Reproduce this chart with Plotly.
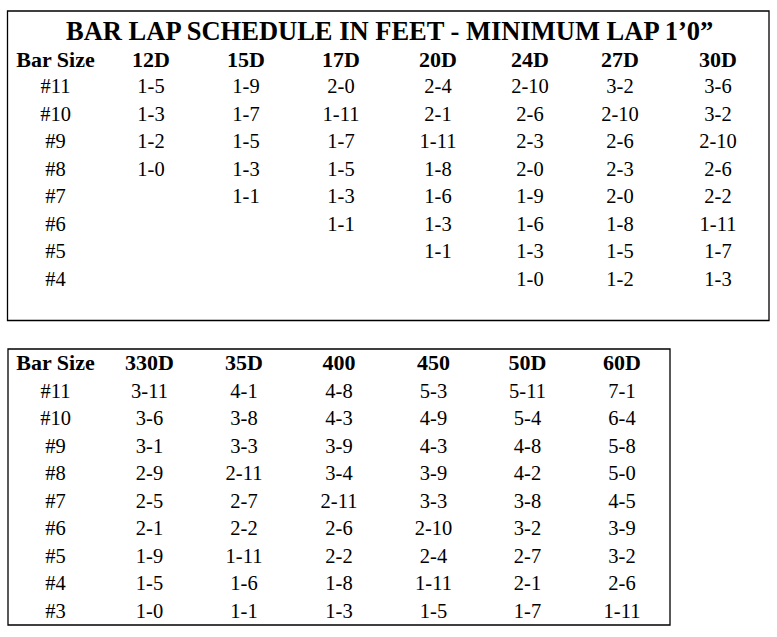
import plotly.graph_objects as go

# ---------------- data ----------------
title_text = "BAR LAP SCHEDULE IN FEET - MINIMUM LAP 1\u20190\u201d"
row_header = "Bar Size"

# upper table
sizes_top = ["#11", "#10", "#9", "#8", "#7", "#6", "#5", "#4"]
cols_top = ["12D", "15D", "17D", "20D", "24D", "27D", "30D"]
lap_12D = ["1-5", "1-3", "1-2", "1-0", "", "", "", ""]
lap_15D = ["1-9", "1-7", "1-5", "1-3", "1-1", "", "", ""]
lap_17D = ["2-0", "1-11", "1-7", "1-5", "1-3", "1-1", "", ""]
lap_20D = ["2-4", "2-1", "1-11", "1-8", "1-6", "1-3", "1-1", ""]
lap_24D = ["2-10", "2-6", "2-3", "2-0", "1-9", "1-6", "1-3", "1-0"]
lap_27D = ["3-2", "2-10", "2-6", "2-3", "2-0", "1-8", "1-5", "1-2"]
lap_30D = ["3-6", "3-2", "2-10", "2-6", "2-2", "1-11", "1-7", "1-3"]

# lower table
sizes_bot = ["#11", "#10", "#9", "#8", "#7", "#6", "#5", "#4", "#3"]
cols_bot = ["330D", "35D", "400", "450", "50D", "60D"]
lap_330D = ["3-11", "3-6", "3-1", "2-9", "2-5", "2-1", "1-9", "1-5", "1-0"]
lap_35D = ["4-1", "3-8", "3-3", "2-11", "2-7", "2-2", "1-11", "1-6", "1-1"]
lap_400 = ["4-8", "4-3", "3-9", "3-4", "2-11", "2-6", "2-2", "1-8", "1-3"]
lap_450 = ["5-3", "4-9", "4-3", "3-9", "3-3", "2-10", "2-4", "1-11", "1-5"]
lap_50D = ["5-11", "5-4", "4-8", "4-2", "3-8", "3-2", "2-7", "2-1", "1-7"]
lap_60D = ["7-1", "6-4", "5-8", "5-0", "4-5", "3-9", "3-2", "2-6", "1-11"]

top_values = [lap_12D, lap_15D, lap_17D, lap_20D, lap_24D, lap_27D, lap_30D]
bot_values = [lap_330D, lap_35D, lap_400, lap_450, lap_50D, lap_60D]

# ---------------- layout constants ----------------
W, H = 777, 637
FONT = "Liberation Serif, Times New Roman, serif"
CELL_SIZE = 20.5
HEAD_SIZE = 22
TITLE_SIZE = 26.5
ROW_STEP = 27.5

top_box = dict(x0=7.5, x1=769, y0=11, y1=320.5)
bot_box = dict(x0=8, x1=670, y0=349, y1=625)

top_xs = [55.5, 151, 246, 341, 438, 530, 620, 718]
bot_xs = [55.5, 149.5, 244, 339, 433.5, 527.5, 622]
top_header_y, top_first_row = 61, 88
bot_header_y, bot_first_row = 364.5, 392.5

fig = go.Figure()


def add_table(sizes, cols, values, xs, header_y, first_row):
    # header row
    fig.add_trace(go.Scatter(
        x=xs, y=[header_y] * len(xs), mode="text",
        text=[row_header] + cols,
        textposition="middle center",
        textfont=dict(family=FONT, size=HEAD_SIZE, color="black", weight="bold"),
        hoverinfo="skip", showlegend=False))
    ys = [first_row + i * ROW_STEP for i in range(len(sizes))]
    # bar size column
    fig.add_trace(go.Scatter(
        x=[xs[0]] * len(sizes), y=ys, mode="text", text=sizes,
        textposition="middle center",
        textfont=dict(family=FONT, size=CELL_SIZE, color="black"),
        hoverinfo="skip", showlegend=False))
    # value columns
    for ci, col in enumerate(values):
        fig.add_trace(go.Scatter(
            x=[xs[ci + 1]] * len(col), y=ys, mode="text", text=col,
            textposition="middle center",
            textfont=dict(family=FONT, size=CELL_SIZE, color="black"),
            hoverinfo="skip", showlegend=False))


add_table(sizes_top, cols_top, top_values, top_xs, top_header_y, top_first_row)
add_table(sizes_bot, cols_bot, bot_values, bot_xs, bot_header_y, bot_first_row)

for b in (top_box, bot_box):
    fig.add_shape(type="rect", xref="x", yref="y", **b,
                  line=dict(color="black", width=1.3), fillcolor="rgba(0,0,0,0)")

fig.add_annotation(x=389, y=30.5, xref="x", yref="y", text=title_text,
                   showarrow=False, xanchor="center", yanchor="middle",
                   font=dict(family=FONT, size=TITLE_SIZE, color="black", weight="bold"))

fig.update_layout(
    width=W, height=H, margin=dict(l=0, r=0, t=0, b=0),
    paper_bgcolor="white", plot_bgcolor="white",
    xaxis=dict(range=[0, W], visible=False, fixedrange=True),
    yaxis=dict(range=[H, 0], visible=False, fixedrange=True),
)

fig.write_html("out.html", config={"displayModeBar": False},
               post_script="document.body.style.margin='0';document.body.style.overflow='hidden';")
